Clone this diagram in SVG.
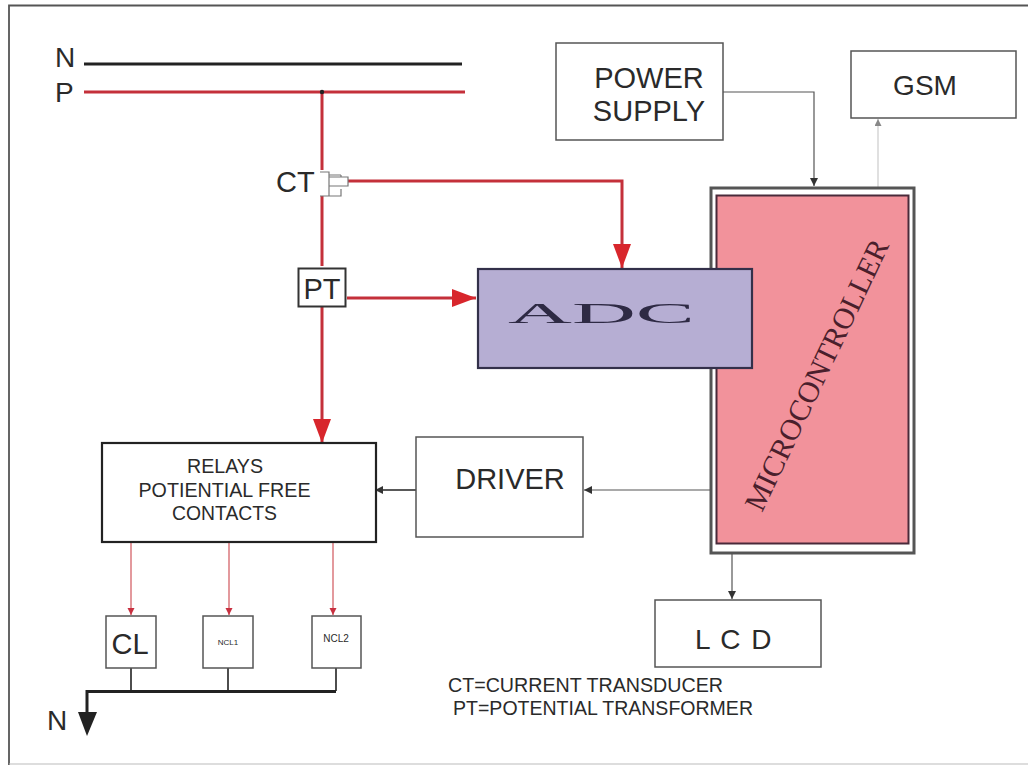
<svg xmlns="http://www.w3.org/2000/svg" width="1028" height="765" viewBox="0 0 1028 765">
<style>
text{font-family:"Liberation Sans",Arial,sans-serif;fill:#2a2a2a}
.box{fill:#fff;stroke:#555;stroke-width:1.5}
.thick{fill:#fff;stroke:#222;stroke-width:2.2}
.red{fill:none;stroke:#c4303a;stroke-width:3}
.thin{fill:none;stroke:#555;stroke-width:1.2}
.tr{fill:none;stroke:#d0555c;stroke-width:1.2}
.blk{fill:none;stroke:#222;stroke-width:1.6}
</style>
<defs>
<marker id="ar" markerUnits="userSpaceOnUse" markerWidth="26" markerHeight="24" refX="24" refY="9" orient="auto"><path d="M0 0L24 9L0 18Z" fill="#d8262c"/></marker>
<marker id="ak" markerUnits="userSpaceOnUse" markerWidth="10" markerHeight="10" refX="8" refY="4" orient="auto"><path d="M0 0L8 4L0 8Z" fill="#333"/></marker>
<marker id="at" markerUnits="userSpaceOnUse" markerWidth="10" markerHeight="10" refX="7" refY="3.5" orient="auto"><path d="M0 0L7 3.5L0 7Z" fill="#c83040"/></marker>
<marker id="ag" markerUnits="userSpaceOnUse" markerWidth="10" markerHeight="10" refX="7" refY="3.5" orient="auto"><path d="M0 0L7 3.5L0 7Z" fill="#888"/></marker>
</defs>
<rect width="1028" height="765" fill="#fff"/>
<path d="M9 765V5.500H1028" fill="none" stroke="#555" stroke-width="1.800"/>
<path d="M9 764H1028" fill="none" stroke="#bbb" stroke-width="1.200"/>
<g id="connectors">
<path d="M84 64H462" fill="none" stroke="#222" stroke-width="3"/>
<path d="M84 92H465" class="red"/>
<path d="M322 92V170M322 195V266M322 307V443" class="red" marker-end="url(#ar)"/>
<path d="M345 181H622V268" class="red" marker-end="url(#ar)"/>
<path d="M347 298H476" class="red" marker-end="url(#ar)"/>
<path d="M723 92H814V186" class="thin" marker-end="url(#ak)"/>
<path d="M878 187V119" fill="none" stroke="#ccc" stroke-width="1.2" marker-end="url(#ag)"/>
<path d="M710 490H584" class="thin" marker-end="url(#ak)"/>
<path d="M416 490H375" class="blk" marker-end="url(#ak)"/>
<path d="M732 554V599" class="thin" marker-end="url(#ak)"/>
<path d="M131 543V615" class="tr" marker-end="url(#at)"/>
<path d="M229 543V615" class="tr" marker-end="url(#at)"/>
<path d="M333 543V615" class="tr" marker-end="url(#at)"/>
<path d="M131 668V691M228 668V691M336 668V691" class="blk"/>
<path d="M336 691.500H87V722" fill="none" stroke="#222" stroke-width="3"/>
<path d="M78 712H97L87 736Z" fill="#222"/>
<circle cx="322" cy="92" r="2.200" fill="#222"/>
</g>
<g id="labels-line"><text x="55" y="67" font-size="28">N</text><text x="55" y="102" font-size="28">P</text></g>
<g id="power"><rect class="box" x="556" y="43" width="167" height="97"/><text x="649" y="88" font-size="29" text-anchor="middle">POWER</text><text x="649" y="121" font-size="29" text-anchor="middle">SUPPLY</text></g>
<g id="gsm"><rect class="box" x="851" y="51" width="165" height="67"/><text x="925" y="95" font-size="28" text-anchor="middle">GSM</text></g>
<g id="ct"><text x="276" y="192" font-size="29">CT</text>
<path d="M320 172H329V196H320M329 175H341M329 196H341V189M329 177H348V186H329M341 175V177" fill="#fff" stroke="#777" stroke-width="1.2"/></g>
<g id="pt"><rect x="298.500" y="268.500" width="47" height="38" fill="#fff" stroke="#333" stroke-width="2"/><text x="322" y="299" font-size="29" text-anchor="middle">PT</text></g>
<g id="microcontroller"><rect x="711" y="188" width="203" height="365" fill="#fff" stroke="#555" stroke-width="3"/><rect x="716.500" y="195.500" width="192" height="348" fill="#f2929b" stroke="#4a2a3a" stroke-width="2"/>
<text transform="translate(762 513) rotate(-64.500)" font-size="30" style="font-family:'Liberation Serif',serif;fill:#4a1f2c">MICROCONTROLLER</text></g>
<g id="adc"><rect x="478" y="269" width="274" height="99" fill="#b6aed3" stroke="#33304a" stroke-width="2.2"/>
<text transform="translate(508 323) scale(2.950 1)" font-size="30" style="font-family:'Liberation Serif',serif;fill:#2e2a44">ADC</text></g>
<g id="relays"><rect class="thick" x="102" y="443" width="274" height="99"/>
<text x="225" y="473" font-size="20" text-anchor="middle" textLength="76" lengthAdjust="spacingAndGlyphs">RELAYS</text><text x="224.500" y="497" font-size="20" text-anchor="middle" textLength="172" lengthAdjust="spacingAndGlyphs">POTIENTIAL FREE</text><text x="224.500" y="520" font-size="20" text-anchor="middle" textLength="105" lengthAdjust="spacingAndGlyphs">CONTACTS</text></g>
<g id="driver"><rect class="box" x="416" y="437" width="167" height="100"/><text x="510" y="489" font-size="29" text-anchor="middle">DRIVER</text></g>
<g id="lcd"><rect class="box" x="655" y="600" width="166" height="67"/><text x="734" y="649" font-size="28" text-anchor="middle" letter-spacing="1.500">L C D</text></g>
<g id="cl"><rect class="box" x="106" y="616" width="50" height="52"/><text x="130" y="654" font-size="29" text-anchor="middle">CL</text></g>
<g id="ncl1"><rect class="box" x="203" y="616" width="50" height="52"/><text x="228" y="645" font-size="8" text-anchor="middle">NCL1</text></g>
<g id="ncl2"><rect class="box" x="312" y="616" width="49" height="52"/><text x="336" y="642" font-size="10" text-anchor="middle">NCL2</text></g>
<g id="neutral"><text x="47" y="730" font-size="28">N</text></g>
<g id="legend"><text x="448" y="692" font-size="19.500" textLength="275" lengthAdjust="spacingAndGlyphs">CT=CURRENT TRANSDUCER</text><text x="453" y="715" font-size="19.500" textLength="300" lengthAdjust="spacingAndGlyphs">PT=POTENTIAL TRANSFORMER</text></g>
</svg>
